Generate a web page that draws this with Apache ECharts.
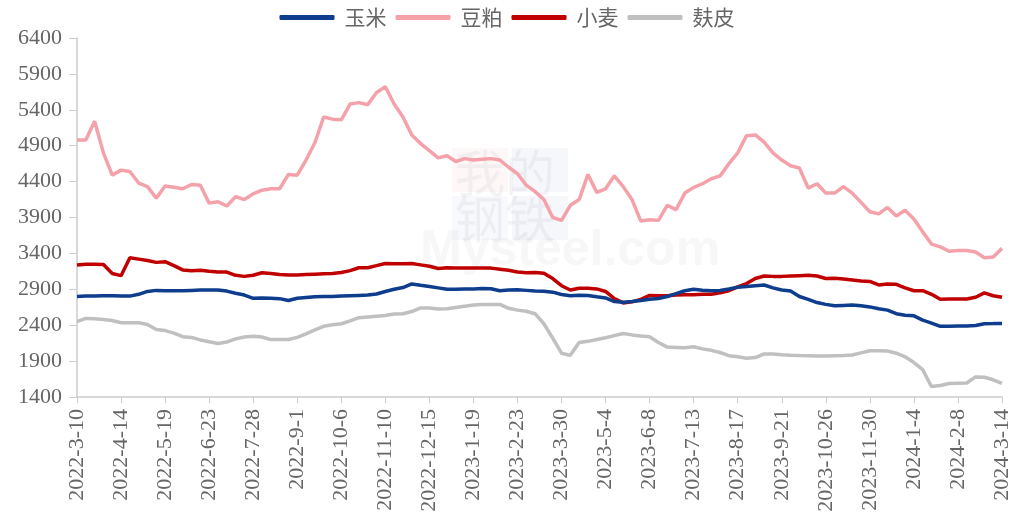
<!DOCTYPE html>
<html>
<head>
<meta charset="utf-8">
<script src="https://cdn.jsdelivr.net/npm/echarts@6/dist/echarts.min.js"></script>
<style>
  html, body { margin: 0; padding: 0; background: #fff; }
  #chart { width: 1014px; height: 525px; }
</style>
</head>
<body>
<div id="chart"></div>
<script>
// 日期范围（逐日类目），数据为每周一个点
const startDate = '2022-03-10'
const endDate = '2024-03-14'
const sampleStep = 7

const yTicks = { min: 1400, max: 6400, interval: 500 }

const seriesNames = ['玉米', '豆粕', '小麦', '麸皮']
const seriesColors = ['#0d3d8c', '#f4a1aa', '#c00000', '#c0c0c0']

// 玉米
const corn = [
  2800, 2805, 2808, 2810, 2810, 2808, 2805, 2830, 2870, 2885,
  2880, 2880, 2880, 2885, 2890, 2890, 2890, 2875, 2845, 2820,
  2775, 2780, 2775, 2770, 2745, 2775, 2785, 2795, 2798, 2800,
  2805, 2810, 2815, 2820, 2835, 2870, 2900, 2925, 2975, 2955,
  2940, 2920, 2900, 2900, 2905, 2905, 2910, 2908, 2880, 2890,
  2895, 2885, 2875, 2872, 2860, 2828, 2810, 2818, 2815, 2795,
  2780, 2730, 2720, 2730, 2745, 2760, 2772, 2800, 2840, 2880,
  2900, 2888, 2880, 2883, 2905, 2930, 2940, 2950, 2960, 2920,
  2890, 2875, 2800, 2760, 2715, 2690, 2670, 2675, 2680, 2670,
  2655, 2630, 2610, 2560, 2540, 2530, 2470, 2430, 2385, 2385,
  2388, 2390, 2395, 2420, 2422, 2425
]

// 豆粕
const meal = [
  4980, 4980, 5240, 4800, 4490, 4560, 4540, 4380, 4330, 4170,
  4340, 4320, 4300, 4360, 4350, 4100, 4120, 4060, 4190, 4150,
  4230, 4280, 4300, 4300, 4500, 4490, 4700, 4940, 5300, 5270,
  5260, 5480, 5500, 5470, 5640, 5720, 5480, 5300, 5050, 4930,
  4830, 4730, 4760, 4680, 4720, 4700, 4710, 4720, 4700, 4600,
  4510, 4350, 4260, 4150, 3900, 3860, 4070, 4150, 4500, 4250,
  4300, 4480, 4330, 4150, 3850, 3870, 3860, 4070, 4010, 4240,
  4320, 4370, 4440, 4480, 4650, 4800, 5040, 5050, 4950, 4800,
  4700, 4620, 4590, 4310, 4370, 4240, 4240, 4330, 4240, 4110,
  3980, 3950, 4040, 3920, 4000, 3880, 3700, 3530, 3490, 3430,
  3440, 3440, 3420, 3340, 3350, 3470
]

// 小麦
const wheat = [
  3240, 3250, 3250, 3245, 3120, 3090, 3340, 3320, 3300, 3275,
  3285, 3230, 3170, 3160, 3165, 3150, 3140, 3140, 3095, 3080,
  3095, 3130, 3120, 3105, 3100, 3100, 3105, 3110, 3115, 3120,
  3135, 3160, 3200, 3200, 3230, 3260, 3255, 3255, 3260, 3240,
  3220, 3190, 3200, 3195, 3195, 3195, 3195, 3195, 3180, 3165,
  3140, 3130, 3135, 3125, 3050, 2950, 2890, 2915, 2915, 2905,
  2870, 2770, 2710, 2725, 2760, 2815, 2810, 2810, 2820, 2825,
  2825, 2830, 2830, 2850, 2880, 2935, 2980, 3050, 3085, 3080,
  3080, 3085, 3090, 3095, 3085, 3050, 3055, 3045, 3030, 3015,
  3010, 2960, 2975, 2970, 2920, 2880, 2880, 2830, 2760, 2765,
  2765, 2765, 2790, 2850, 2810, 2790
]

// 麸皮
const bran = [
  2450, 2495, 2490, 2480, 2465, 2435, 2435, 2435, 2410, 2340,
  2325, 2290, 2240, 2230, 2195, 2170, 2145, 2165, 2210, 2235,
  2245, 2235, 2200, 2200, 2200, 2230, 2280, 2335, 2385, 2405,
  2420, 2460, 2505, 2515, 2525, 2535, 2555, 2560, 2590, 2640,
  2640, 2625, 2630, 2648, 2665, 2682, 2688, 2690, 2690, 2635,
  2610, 2595, 2560, 2420, 2220, 2010, 1980, 2160, 2175, 2200,
  2225, 2255, 2285, 2265, 2250, 2240, 2160, 2095, 2090, 2085,
  2100, 2070, 2050, 2020, 1975, 1960, 1940, 1950, 2000, 2000,
  1990, 1982, 1978, 1975, 1972, 1970, 1975, 1978, 1985, 2015,
  2045, 2045, 2040, 2010, 1960, 1880, 1780, 1545, 1560, 1588,
  1592, 1595, 1680, 1675, 1640, 1590
]

const seriesValues = [corn, meal, wheat, bran]

function buildDays() {
  const days = []
  const d = new Date(startDate + 'T00:00:00Z')
  const end = new Date(endDate + 'T00:00:00Z')
  while (d <= end) {
    days.push(d.getUTCFullYear() + '-' + (d.getUTCMonth() + 1) + '-' + d.getUTCDate())
    d.setUTCDate(d.getUTCDate() + 1)
  }
  return days
}

const days = buildDays()
const serifFont = '"Liberation Serif", "Times New Roman", serif'
const axisColor = '#cccccc'
const labelColor = '#666666'

const chart = echarts.init(document.getElementById('chart'))

chart.setOption({
  animation: false,
  legend: {
    top: 2,
    left: 'center',
    itemWidth: 55,
    itemHeight: 5,
    itemGap: 9,
    icon: 'roundRect',
    textStyle: {
      fontFamily: '"Noto Sans CJK SC", sans-serif',
      fontSize: 21,
      color: labelColor,
      padding: [0, 0, 0, 5]
    },
    data: seriesNames
  },
  grid: {
    left: 77,
    right: 12,
    top: 38,
    bottom: 128
  },
  graphic: [
    { type: 'rect', z: -10, shape: { x: 452, y: 148, width: 56, height: 44 }, style: { fill: 'rgba(240,120,120,0.06)' } },
    { type: 'rect', z: -10, shape: { x: 512, y: 148, width: 56, height: 44 }, style: { fill: 'rgba(120,140,200,0.07)' } },
    { type: 'rect', z: -10, shape: { x: 452, y: 196, width: 56, height: 44 }, style: { fill: 'rgba(120,140,200,0.05)' } },
    { type: 'rect', z: -10, shape: { x: 512, y: 196, width: 56, height: 44 }, style: { fill: 'rgba(120,140,200,0.07)' } },
    { type: 'text', z: -9, left: 455, top: 148, style: { text: '我的', fontSize: 50, fontFamily: '"Noto Sans CJK SC"', fill: 'rgba(200,200,210,0.22)' } },
    { type: 'text', z: -9, left: 455, top: 194, style: { text: '钢铁', fontSize: 50, fontFamily: '"Noto Sans CJK SC"', fill: 'rgba(200,200,210,0.22)' } },
    { type: 'text', z: -9, left: 420, top: 226, style: { text: 'Mysteel.com', fontSize: 50, fontWeight: 'bold', fontFamily: 'Arial, sans-serif', fill: 'rgba(210,210,210,0.18)' } }
  ],
  xAxis: {
    type: 'category',
    data: days,
    boundaryGap: false,
    axisLine: { lineStyle: { color: axisColor, width: 1.5 } },
    axisTick: {
      interval: 34,
      length: 6,
      lineStyle: { color: axisColor }
    },
    axisLabel: {
      interval: 34,
      rotate: 90,
      margin: 12,
      fontFamily: serifFont,
      fontSize: 22,
      color: labelColor
    },
    splitLine: { show: false }
  },
  yAxis: {
    type: 'value',
    min: yTicks.min,
    max: yTicks.max,
    interval: yTicks.interval,
    axisLine: { show: true, lineStyle: { color: axisColor, width: 1.5 } },
    axisTick: { show: true, length: 8, lineStyle: { color: axisColor } },
    axisLabel: {
      margin: 15,
      fontFamily: serifFont,
      fontSize: 22,
      color: labelColor,
      formatter: (v) => String(v)
    },
    splitLine: { show: false }
  },
  series: seriesNames.map((name, k) => ({
    name,
    type: 'line',
    symbol: 'none',
    smooth: false,
    lineStyle: { width: 3.5, color: seriesColors[k] },
    itemStyle: { color: seriesColors[k] },
    z: k === 0 ? 4 : 3,
    data: seriesValues[k].map((v, i) => [days[i * sampleStep], v])
  }))
})
</script>
</body>
</html>
